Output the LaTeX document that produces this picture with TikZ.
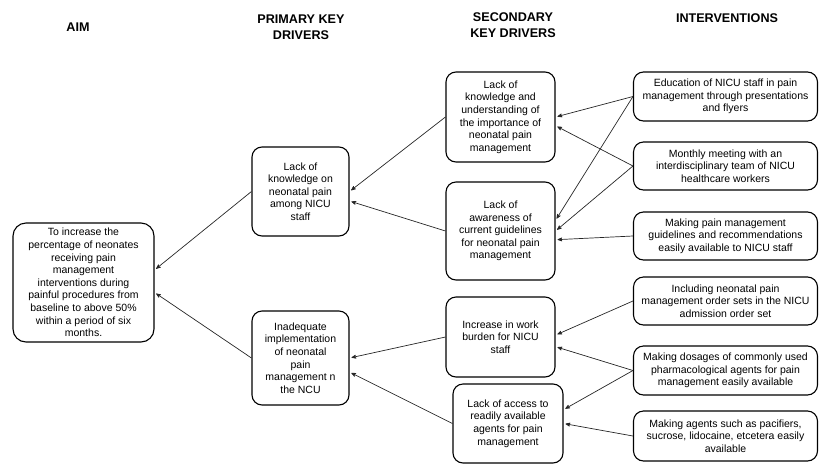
\documentclass[tikz,border=0pt]{standalone}
\usepackage{fontspec}
\setmainfont{Liberation Sans}
\usetikzlibrary{arrows,positioning}
\tikzset{>=stealth',shorten >=2pt,auto}
\tikzset{driver/.style={draw,line width=1.1pt,rounded corners=10pt,align=center,inner sep=1pt,
        font=\fontsize{10.5}{12.6}\selectfont}}
\tikzset{heading/.style={align=center,inner sep=0pt,font=\fontsize{12.6}{15.6}\selectfont\bfseries}}
\tikzset{link/.style={->,line width=0.7pt,black!85}}

\begin{document}
\begin{tikzpicture}[x=1pt,y=-1pt]
    \useasboundingbox (0,0) rectangle (819,464);
    % column headings
    \node[heading] (haim) at (78,27) {AIM};
    \node[heading] (hpkd) at (301,27) {PRIMARY KEY\\DRIVERS};
    \node[heading] (hskd) at (513,25) {SECONDARY\\KEY DRIVERS};
    \node[heading] (hint) at (727,18) {INTERVENTIONS};
    % aim
    \node[driver,rounded corners=13pt,minimum width=141pt,minimum height=119pt] (aim) at (83.5,282.5)
        {To increase the\\percentage of neonates\\receiving pain\\management\\interventions during\\painful procedures from\\baseline to above 50\%\\within a period of six\\months.};
    % primary key drivers
    \node[driver,minimum width=97pt,minimum height=89pt] (pkd1) at (300.5,191.5)
        {Lack of\\knowledge on\\neonatal pain\\among NICU\\staff};
    \node[driver,minimum width=97pt,minimum height=94pt] (pkd2) at (300.5,358)
        {Inadequate\\implementation\\of neonatal\\pain\\management n\\the NCU};
    % secondary key drivers
    \node[driver,minimum width=109pt,minimum height=90pt] (skd1) at (500.5,117)
        {Lack of\\knowledge and\\understanding of\\the importance of\\neonatal pain\\management};
    \node[driver,minimum width=109pt,minimum height=98pt] (skd2) at (500.5,231)
        {Lack of\\awareness of\\current guidelines\\for neonatal pain\\management};
    \node[driver,minimum width=109pt,minimum height=80pt] (skd3) at (500.5,337)
        {Increase in work\\burden for NICU\\staff};
    \node[driver,minimum width=110pt,minimum height=79pt] (skd4) at (508,423.5)
        {Lack of access to\\readily available\\agents for pain\\management};
    % interventions
    \tikzset{every node/.append style={minimum width=184pt}}
    \node[driver,minimum height=49pt] (iv1) at (725.5,96.5)
        {Education of NICU staff in pain\\management through presentations\\and flyers};
    \node[driver,minimum height=48pt] (iv2) at (725.5,166)
        {Monthly meeting with an\\interdisciplinary team of NICU\\healthcare workers};
    \node[driver,minimum height=48pt] (iv3) at (725.5,236)
        {Making pain management\\guidelines and recommendations\\easily available to NICU staff};
    \node[driver,minimum height=48pt] (iv4) at (725.5,301)
        {Including neonatal pain\\management order sets in the NICU\\admission order set};
    \node[driver,minimum height=49pt] (iv5) at (725.5,370.5)
        {Making dosages of commonly used\\pharmacological agents for pain\\management easily available};
    \node[driver,minimum height=50pt] (iv6) at (725.5,436)
        {Making agents such as pacifiers,\\sucrose, lidocaine, etcetera easily\\available};

    \path[link]
        (pkd1.west) edge (aim.10)
        (pkd2.west) edge (aim.-8)
        (skd1.west) edge (pkd1.east)
        (skd2.west) edge (pkd1.-11)
        (skd3.west) edge (pkd2.east)
        (skd4.west) edge (pkd2.-16)
        (iv1.west)  edge (skd1.east)
        (iv1.west)  edge (skd2.11)
        (iv2.west)  edge (skd1.-9)
        (iv2.west)  edge (skd2.east)
        (iv3.west)  edge (skd2.-9)
        (iv4.west)  edge (skd3.2)
        (iv5.west)  edge (skd3.-10)
        (iv5.west)  edge (skd4.14)
        (iv6.west)  edge (skd4.east)
    ;
\end{tikzpicture}
\end{document}
